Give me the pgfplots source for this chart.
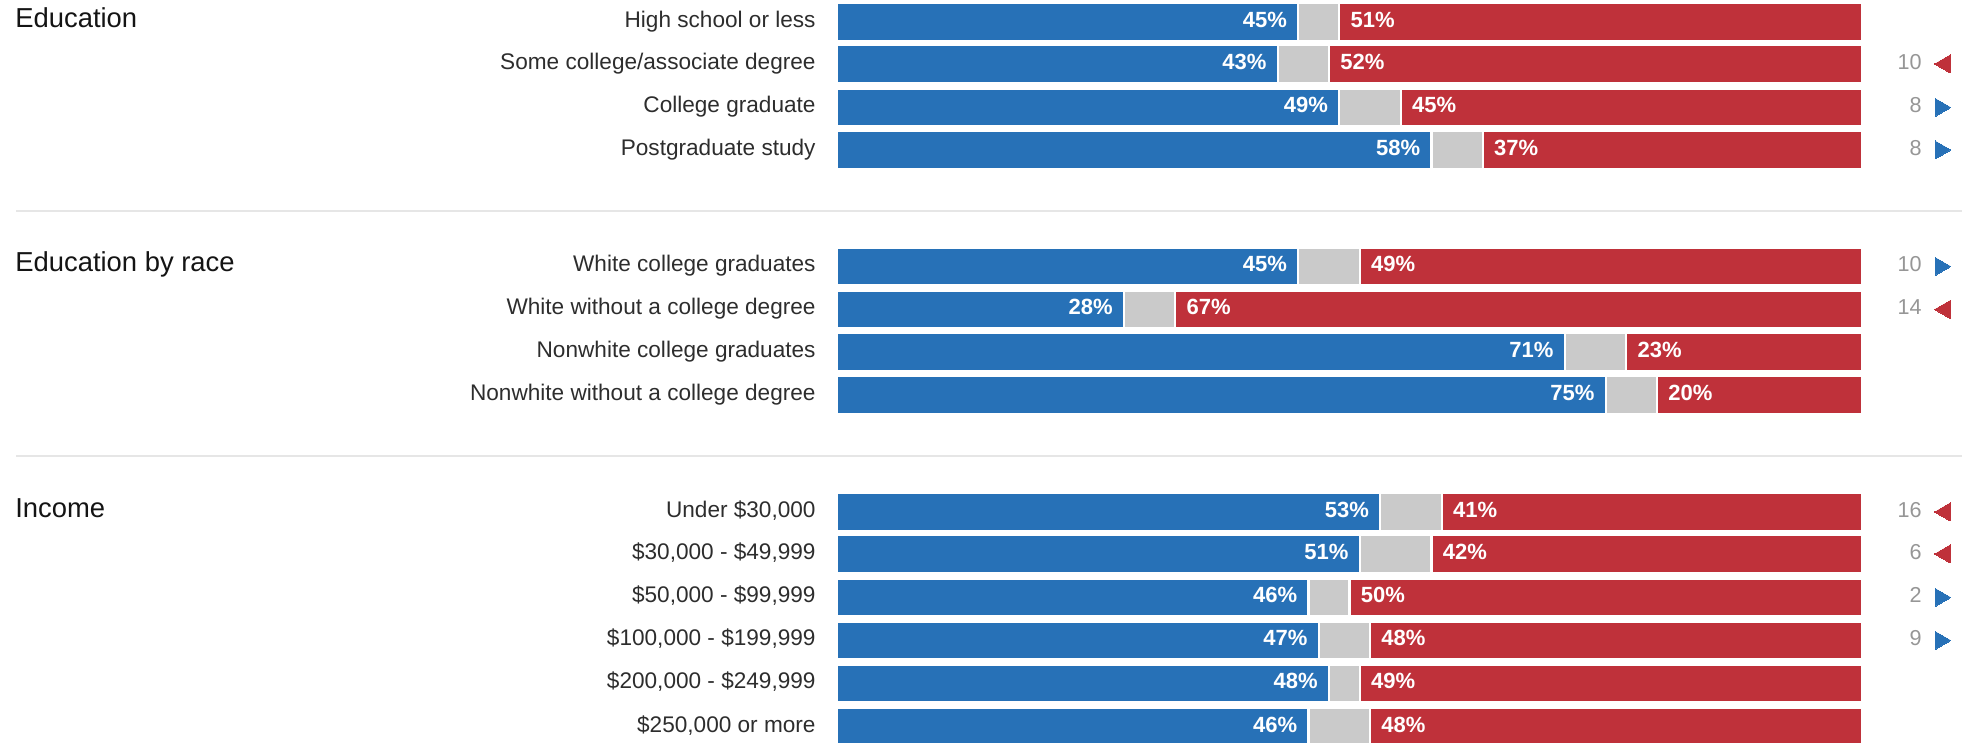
\documentclass[border=0pt]{standalone}
\usepackage{fontspec}
\setmainfont{Liberation Sans}
\usepackage{pgfplots}
\usepackage{pgfplotstable}
\pgfplotsset{compat=1.18}

\definecolor{demblue}{RGB}{39,113,183}
\definecolor{repred}{RGB}{191,49,58}
\definecolor{othgrey}{RGB}{202,202,202}
\definecolor{labelcol}{RGB}{45,45,45}
\definecolor{titlecol}{RGB}{20,20,20}
\definecolor{numcol}{RGB}{150,150,150}
\definecolor{sepcol}{RGB}{230,230,230}

\pgfplotstableread[col sep=semicolon]{
y;dem;rep;label
-22;45;51;High school or less
-64;43;52;Some college/associate degree
-107.5;49;45;College graduate
-150;58;37;Postgraduate study
-266.5;45;49;White college graduates
-309.5;28;67;White without a college degree
-352;71;23;Nonwhite college graduates
-395;75;20;Nonwhite without a college degree
-512;53;41;Under \$30,000
-554;51;42;\$30,000 - \$49,999
-597.5;46;50;\$50,000 - \$99,999
-640.5;47;48;\$100,000 - \$199,999
-683.5;48;49;\$200,000 - \$249,999
-727;46;48;\$250,000 or more
}\data

% shift toward Republicans (red, left-pointing)
\pgfplotstableread{
y val
-64 10
-309.5 14
-512 16
-554 6
}\shiftR

% shift toward Democrats (blue, right-pointing)
\pgfplotstableread{
y val
-107.5 8
-150 8
-266.5 10
-597.5 2
-640.5 9
}\shiftD

\begin{document}
\begin{tikzpicture}
\begin{axis}[
  width=981pt, height=371.5pt, scale only axis,
  xmin=-81.66, xmax=109.76, ymin=-743, ymax=0,
  hide axis,
  clip=true,
  /pgf/number format/assume math mode=true,
]
% separators
\draw[sepcol, line width=1.2pt] (axis cs:-80.1,-211) -- (axis cs:109.76,-211);
\draw[sepcol, line width=1.2pt] (axis cs:-80.1,-456) -- (axis cs:109.76,-456);

% bars: red full, grey up to 100-rep, blue up to dem
\addplot[xbar, bar width=19pt, bar shift=0pt, fill=repred, draw=white, line width=1.2pt]
  table[x expr=100, y=y]{\data};
\addplot[xbar, bar width=19pt, bar shift=0pt, fill=othgrey, draw=white, line width=1.2pt]
  table[x expr=100-\thisrow{rep}, y=y]{\data};
\addplot[xbar, bar width=19pt, bar shift=0pt, fill=demblue, draw=white, line width=1.2pt]
  table[x=dem, y=y]{\data};

% percentage labels
\addplot[draw=none, no marks, point meta=explicit,
  nodes near coords={\pgfmathprintnumber{\pgfplotspointmeta}\%},
  every node near coord/.style={anchor=mid east, xshift=-5.5pt, inner sep=0pt,
    text=white, font=\fontsize{11}{13}\selectfont\bfseries}]
  table[x=dem, y=y, meta=dem]{\data};
\addplot[draw=none, no marks, point meta=explicit,
  nodes near coords={\pgfmathprintnumber{\pgfplotspointmeta}\%},
  every node near coord/.style={anchor=mid west, xshift=5.5pt, inner sep=0pt,
    text=white, font=\fontsize{11}{13}\selectfont\bfseries}]
  table[x expr=100-\thisrow{rep}, y=y, meta=rep]{\data};

% category labels
\addplot[draw=none, no marks, point meta=explicit symbolic,
  nodes near coords,
  every node near coord/.style={anchor=mid east, inner sep=0pt,
    text=labelcol, font=\fontsize{11.3}{13}\selectfont}]
  table[x expr=-2.05, y=y, meta=label]{\data};

% shift numbers
\addplot[draw=none, no marks, point meta=explicit,
  nodes near coords={\pgfmathprintnumber{\pgfplotspointmeta}},
  every node near coord/.style={anchor=mid east, inner sep=0pt,
    text=numcol, font=\fontsize{10.8}{13}\selectfont}]
  table[x expr=105.85, y=y, meta=val]{\shiftR};
\addplot[draw=none, no marks, point meta=explicit,
  nodes near coords={\pgfmathprintnumber{\pgfplotspointmeta}},
  every node near coord/.style={anchor=mid east, inner sep=0pt,
    text=numcol, font=\fontsize{10.8}{13}\selectfont}]
  table[x expr=105.85, y=y, meta=val]{\shiftD};

% arrows
\addplot[repred, only marks, mark=triangle*, mark size=5.2pt,
  mark options={rotate=90, fill=repred, draw=repred, line width=0pt}]
  table[x expr=108.1, y=y]{\shiftR};
\addplot[demblue, only marks, mark=triangle*, mark size=5.2pt,
  mark options={rotate=-90, fill=demblue, draw=demblue, line width=0pt}]
  table[x expr=107.65, y=y]{\shiftD};

% group titles
\node[anchor=mid west, inner sep=0pt, text=titlecol, font=\fontsize{13.7}{16}\selectfont]
  at (axis cs:-80.2,-22) {Education};
\node[anchor=mid west, inner sep=0pt, text=titlecol, font=\fontsize{13.7}{16}\selectfont]
  at (axis cs:-80.2,-266.5) {Education by race};
\node[anchor=mid west, inner sep=0pt, text=titlecol, font=\fontsize{13.7}{16}\selectfont]
  at (axis cs:-80.2,-512) {Income};
\end{axis}
\pgfresetboundingbox
\path[use as bounding box] (current axis.south west) rectangle (current axis.north east);
\end{tikzpicture}
\end{document}
